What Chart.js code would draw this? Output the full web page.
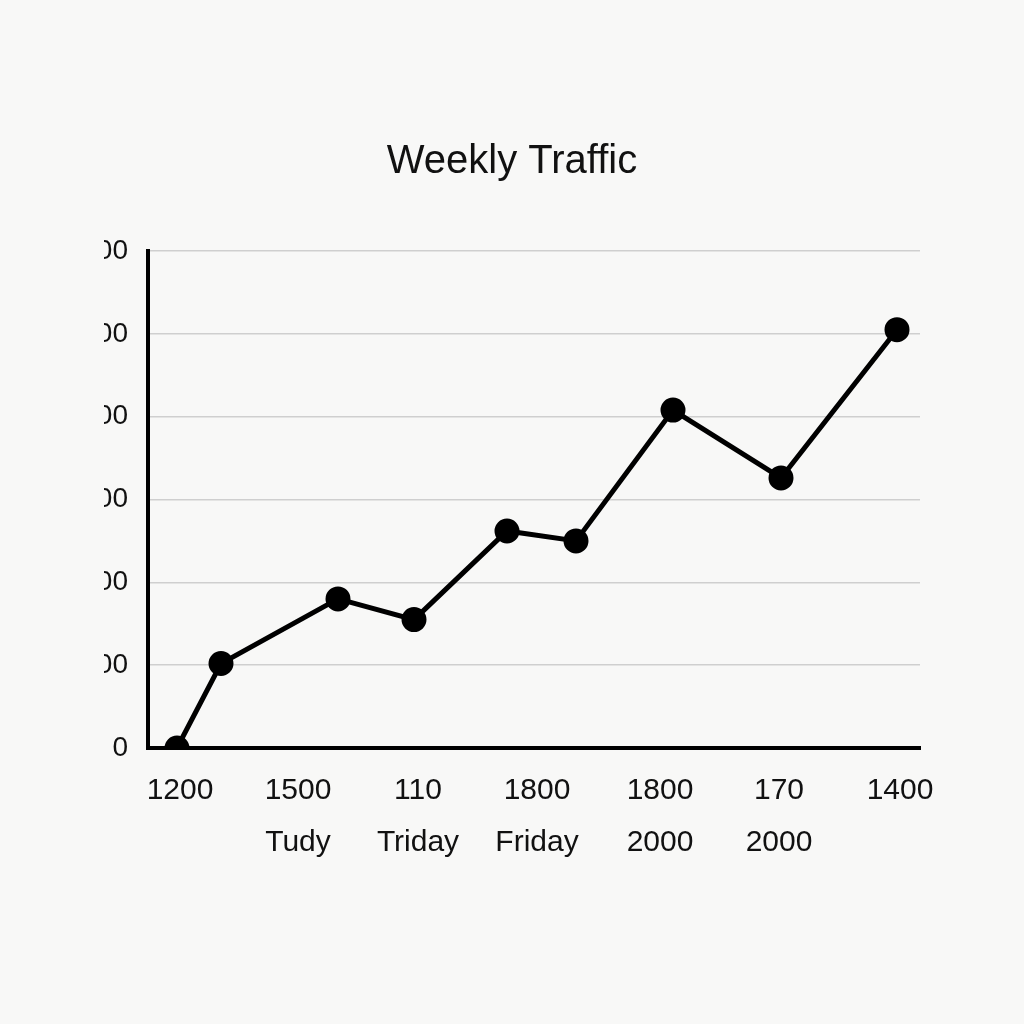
<!DOCTYPE html>
<html>
<head>
<meta charset="utf-8">
<script src="https://cdn.jsdelivr.net/npm/chart.js@4/dist/chart.umd.min.js"></script>
<style>
  html, body { margin: 0; padding: 0; background: #f8f8f7; }
  #wrap { width: 1024px; height: 1024px; }
</style>
</head>
<body>
<div id="wrap"><canvas id="myChart" width="1024" height="1024"></canvas></div>
<script>
// point positions along the x axis and traffic values (in grid steps)
const xValues = [29, 73, 190, 266, 359, 428, 525, 633, 749];
const yValues = [0, 1.02, 1.8, 1.55, 2.62, 2.5, 4.08, 3.26, 5.05];

// tick labels as printed on the chart
const xTickPositions = [32, 150, 270, 389, 512, 631, 752];
const xTickLabels = [['1200'], ['1500', 'Tudy'], ['110', 'Triday'], ['1800', 'Friday'], ['1800', '2000'], ['170', '2000'], ['1400']];
const yTickLabels = ['0', '5000', '5000', '5000', '5000', '5000', '2000'];

const points = xValues.map((x, i) => ({ x: x, y: yValues[i] }));

new Chart(document.getElementById('myChart'), {
    type: 'line',
    data: {
        datasets: [{
            data: points,
            borderColor: '#000',
            backgroundColor: '#000',
            borderWidth: 5,
            pointRadius: 10,
            pointHoverRadius: 10,
            tension: 0
        }]
    },
    options: {
        responsive: false,
        animation: false,
        layout: { padding: { top: 138, right: 104, left: 104, bottom: 147 } },
        plugins: {
            legend: { display: false },
            tooltip: { enabled: false },
            title: {
                display: true,
                text: 'Weekly Traffic',
                color: '#111',
                font: { family: 'Liberation Sans', size: 40, weight: 'normal' },
                padding: { bottom: 65 }
            }
        },
        scales: {
            x: {
                type: 'linear',
                min: 0,
                max: 772,
                afterBuildTicks: (axis) => { axis.ticks = xTickPositions.map(v => ({ value: v })); },
                ticks: {
                    color: '#111',
                    font: { family: 'Liberation Sans', size: 30, lineHeight: 1.75 },
                    padding: 8,
                    maxRotation: 0,
                    autoSkip: false,
                    callback: (v, i) => xTickLabels[i]
                },
                grid: { display: false },
                border: { color: '#000', width: 4 }
            },
            y: {
                min: 0,
                max: 6,
                afterFit: (axis) => { axis.width = 44; },
                ticks: {
                    stepSize: 1,
                    color: '#111',
                    font: { family: 'Liberation Sans', size: 28 },
                    padding: 20,
                    callback: (v) => yTickLabels[v]
                },
                grid: { color: '#cfcfcf', lineWidth: 1.5, drawTicks: false },
                border: { color: '#000', width: 4 }
            }
        }
    }
});
</script>
</body>
</html>
